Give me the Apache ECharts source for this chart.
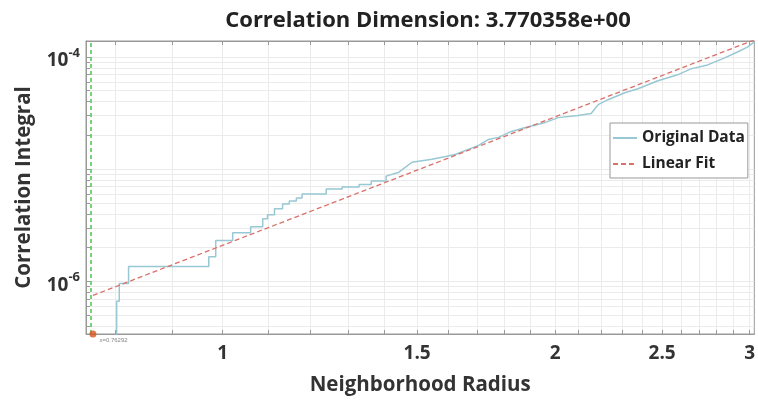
<!DOCTYPE html>
<html>
<head>
<meta charset="utf-8">
<script src="https://cdn.jsdelivr.net/npm/echarts@6.0.0/dist/echarts.min.js"></script>
<style>
  html, body { margin: 0; padding: 0; background: #fff; }
  #main { width: 758px; height: 401px; }
</style>
</head>
<body>
<div id="main"></div>
<script>
// neighborhood radius vs correlation integral
var radius = [0.8016, 0.8016, 0.806, 0.806, 0.8218, 0.8218, 0.9714, 0.9714, 0.9856, 0.9856,
    1.021, 1.021, 1.060, 1.060, 1.087, 1.087, 1.098, 1.098, 1.114, 1.114,
    1.133, 1.133, 1.149, 1.149, 1.166, 1.166, 1.18, 1.18, 1.241, 1.241,
    1.283, 1.283, 1.329, 1.329, 1.363, 1.363, 1.406, 1.406, 1.444, 1.484,
    1.547, 1.592, 1.626, 1.705, 1.741, 1.777, 1.826, 1.880, 1.960, 2.013,
    2.098, 2.156, 2.188, 2.233, 2.313, 2.377, 2.478, 2.582, 2.654, 2.749,
    2.848, 2.925, 2.987, 3.03];
var corrIntegral = [3.3e-7, 6.65e-7, 6.65e-7, 9.6e-7, 9.6e-7, 1.36e-6, 1.36e-6, 1.66e-6, 1.66e-6, 2.31e-6,
    2.31e-6, 2.72e-6, 2.72e-6, 3.07e-6, 3.07e-6, 3.61e-6, 3.61e-6, 3.92e-6, 3.92e-6, 4.43e-6,
    4.43e-6, 4.90e-6, 4.90e-6, 5.21e-6, 5.21e-6, 5.54e-6, 5.54e-6, 6.01e-6, 6.01e-6, 6.65e-6,
    6.65e-6, 6.93e-6, 6.93e-6, 7.3e-6, 7.3e-6, 7.84e-6, 7.84e-6, 8.67e-6, 9.40e-6, 1.153e-5,
    1.225e-5, 1.30e-5, 1.36e-5, 1.63e-5, 1.84e-5, 1.92e-5, 2.17e-5, 2.35e-5, 2.61e-5, 2.88e-5,
    3.01e-5, 3.13e-5, 3.76e-5, 4.16e-5, 4.80e-5, 5.21e-5, 6.13e-5, 6.93e-5, 7.83e-5, 8.49e-5,
    9.80e-5, 1.107e-4, 1.225e-4, 1.36e-4];

// linear fit end points
var fitRadius = [0.7629, 3.03];
var fitIntegral = [7.5e-7, 1.42e-4];

// data tip
var tipRadius = 0.76292;
var tipIntegral = 3.4e-7;

var xTicks = [0.8, 0.9, 1, 1.1, 1.2, 1.3, 1.4, 1.5, 1.6, 1.7, 1.8, 1.9, 2, 2.1, 2.2, 2.3, 2.4, 2.5, 2.6, 2.7, 2.8, 2.9, 3];
var xLabels = [1, 1.5, 2, 2.5, 3];
var yTicks = [4e-7, 5e-7, 6e-7, 7e-7, 8e-7, 9e-7, 1e-6, 2e-6, 3e-6, 4e-6, 5e-6, 6e-6, 7e-6, 8e-6, 9e-6,
    1e-5, 2e-5, 3e-5, 4e-5, 5e-5, 6e-5, 7e-5, 8e-5, 9e-5, 1e-4];
var yLabels = [1e-6, 1e-4];

function zip(a, b) {
    return a.map(function (v, i) { return [v, b[i]]; });
}

var dom = document.getElementById('main');
var myChart = echarts.init(dom, null, { renderer: 'canvas' });
var font = 'Open Sans';

var option = {
    animation: false,
    backgroundColor: '#fff',
    title: {
        text: 'Correlation Dimension: 3.770358e+00',
        left: 423,
        top: 5,
        textAlign: 'center',
        textStyle: { fontFamily: font, fontWeight: 'bold', fontSize: 22, color: '#222' }
    },
    legend: {
        data: ['Original Data', 'Linear Fit'],
        orient: 'vertical',
        left: 610,
        top: 123,
        backgroundColor: '#fff',
        borderColor: '#999',
        borderWidth: 1,
        borderRadius: 0,
        padding: [7, 3, 6, 2],
        itemWidth: 24,
        itemHeight: 14,
        itemGap: 10,
        itemStyle: { opacity: 0 },
        textStyle: { fontFamily: font, fontWeight: 'bold', fontSize: 15.5, color: '#222' }
    },
    grid: {
        left: 86,
        right: 1,
        top: 41,
        bottom: 65,
        show: true,
        borderColor: '#999',
        borderWidth: 1
    },
    xAxis: [{
        type: 'log',
        logBase: 10,
        min: 0.752,
        max: 3.03,
        name: 'Neighborhood Radius',
        nameLocation: 'middle',
        nameGap: 41,
        nameTextStyle: { fontFamily: font, fontWeight: 'bold', fontSize: 20.5, color: '#333' },
        axisLine: { show: true, onZero: false, lineStyle: { color: '#999' } },
        axisTick: { show: true, inside: true, length: 4, customValues: xTicks, lineStyle: { color: '#999' } },
        axisLabel: {
            customValues: xLabels,
            margin: 10,
            fontFamily: font, fontWeight: 'bold', fontSize: 19, color: '#333',
            formatter: function (v) { return String(+(+v).toFixed(2)); }
        },
        splitLine: { show: true, lineStyle: { color: '#ebebeb', width: 1 } }
    }, {
        type: 'log',
        logBase: 10,
        min: 0.752,
        max: 3.03,
        position: 'top',
        axisLine: { show: true, onZero: false, lineStyle: { color: '#999' } },
        axisTick: { show: true, inside: true, length: 4, customValues: xTicks, lineStyle: { color: '#999' } },
        axisLabel: { show: false },
        splitLine: { show: false }
    }],
    yAxis: {
        type: 'log',
        logBase: 10,
        min: 3.4e-7,
        max: 1.387e-4,
        name: 'Correlation Integral',
        nameLocation: 'middle',
        nameGap: 51,
        nameTextStyle: { fontFamily: font, fontWeight: 'bold', fontSize: 20.5, color: '#333' },
        axisLine: { show: true, onZero: false, lineStyle: { color: '#999' } },
        axisTick: { show: true, inside: true, length: 4, customValues: yTicks, lineStyle: { color: '#999' } },
        axisLabel: {
            customValues: yLabels,
            margin: 6,
            formatter: function (v) {
                var e = Math.round(Math.log(v) / Math.LN10);
                return '{b|10}{s|' + e + '}';
            },
            rich: {
                b: { fontFamily: font, fontWeight: 'bold', fontSize: 19, color: '#333', padding: [8, 0, 0, 0] },
                s: { fontFamily: font, fontWeight: 'bold', fontSize: 13, color: '#333', padding: [0, 0, 8, 0] }
            }
        },
        splitLine: { show: true, lineStyle: { color: '#ebebeb', width: 1 } }
    },
    series: [{
        name: 'Original Data',
        type: 'line',
        data: zip(radius, corrIntegral),
        symbol: 'none',
        lineStyle: { color: '#98c8d4', width: 1.5 },
        itemStyle: { color: '#98c8d4' },
        z: 3
    }, {
        name: 'Linear Fit',
        type: 'line',
        data: zip(fitRadius, fitIntegral),
        symbol: 'none',
        lineStyle: { color: '#d9706a', width: 1.3, type: [5, 3] },
        itemStyle: { color: '#d9706a' },
        z: 4
    }, {
        name: 'tip',
        type: 'scatter',
        data: [[tipRadius, tipIntegral]],
        symbolSize: 7,
        clip: false,
        itemStyle: { color: '#d9541e' },
        label: {
            show: true,
            position: 'right',
            offset: [-2, 6],
            formatter: 'x=' + tipRadius,
            fontSize: 6,
            color: '#666'
        },
        markLine: {
            silent: true,
            symbol: 'none',
            label: { show: false },
            lineStyle: { color: '#4cc44c', type: [4, 3], width: 1.5 },
            data: [{ xAxis: tipRadius }]
        },
        z: 5
    }]
};
myChart.setOption(option, true);
window.onresize = myChart.resize;
</script>
</body>
</html>
